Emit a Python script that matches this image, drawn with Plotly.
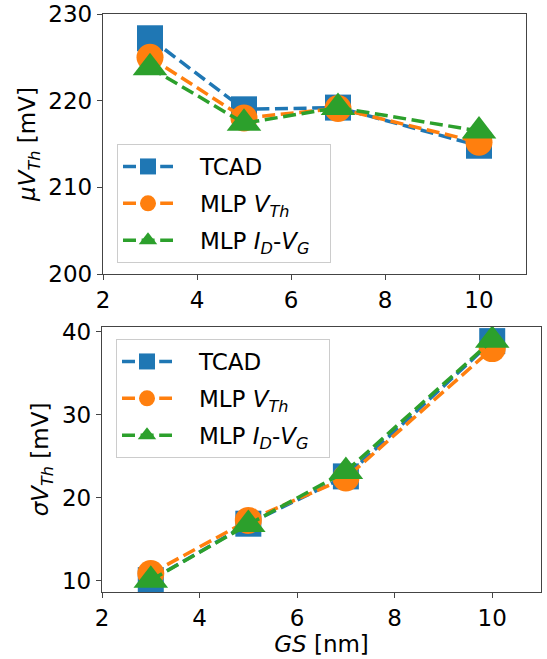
import plotly.graph_objects as go

gs = [3, 5, 7, 10]
mu_tcad = [227.2, 219.0, 219.2, 214.8]
mu_mlp_vth = [225.0, 218.0, 219.1, 215.2]
mu_mlp_idvg = [223.8, 217.4, 219.2, 216.5]
sig_tcad = [10.1, 16.9, 22.6, 38.9]
sig_mlp_vth = [10.9, 17.3, 22.4, 38.0]
sig_mlp_idvg = [10.1, 16.8, 23.2, 39.0]

SP = "\u00a0\u00a0\u00a0"
names = [SP + "TCAD", SP + "MLP <i>V</i><sub><i>Th</i></sub>",
         SP + "MLP <i>I</i><sub><i>D</i></sub>-<i>V</i><sub><i>G</i></sub>\u00a0\u00a0"]
colors = ["#1f77b4", "#ff7f0e", "#2ca02c"]
symbols = ["square", "circle", "triangle-up"]
sizes = [26, 27, 30]

FONT = "DejaVu Sans"
FS = 23

fig = go.Figure()
for i, ys in enumerate([mu_tcad, mu_mlp_vth, mu_mlp_idvg]):
    fig.add_trace(go.Scatter(x=gs, y=ys, mode="lines+markers", name=names[i],
                             line=dict(color=colors[i], width=3.5, dash="13px,5.6px"),
                             marker=dict(symbol=symbols[i], size=sizes[i], color=colors[i]),
                             xaxis="x", yaxis="y", legend="legend", legendgroup="a%d" % i))
for i, ys in enumerate([sig_tcad, sig_mlp_vth, sig_mlp_idvg]):
    fig.add_trace(go.Scatter(x=gs, y=ys, mode="lines+markers", name=names[i],
                             line=dict(color=colors[i], width=3.5, dash="13px,5.6px"),
                             marker=dict(symbol=symbols[i], size=sizes[i], color=colors[i]),
                             xaxis="x2", yaxis="y2", legend="legend2", legendgroup="b%d" % i))

W, H = 547, 659
axstyle = dict(showline=True, mirror=True, linecolor="#444", linewidth=1.3,
               ticks="outside", ticklen=5, tickwidth=1.2, tickcolor="#444",
               showgrid=False, zeroline=False, automargin=False,
               tickfont=dict(family=FONT, size=FS, color="black"))

legstyle = dict(font=dict(family=FONT, size=FS, color="black"),
                bgcolor="rgba(255,255,255,0.8)", bordercolor="#cccccc", borderwidth=1,
                xanchor="left", yanchor="top", itemsizing="trace", itemwidth=50,
                tracegroupgap=4)

fig.update_layout(
    width=W, height=H, margin=dict(l=0, r=0, t=0, b=0, autoexpand=False),
    plot_bgcolor="white", paper_bgcolor="white",
    showlegend=True,
    xaxis=dict(domain=[103 / W, 526 / W], range=[2, 11], tickvals=[2, 4, 6, 8, 10],
               anchor="y", **axstyle),
    yaxis=dict(domain=[1 - 274 / H, 1 - 14 / H], range=[200, 230], tickvals=[200, 210, 220, 230],
               anchor="x",
               title=dict(text="<i>μV</i><sub><i>Th</i></sub> [mV]", standoff=6,
                          font=dict(family=FONT, size=FS, color="black")),
               **axstyle),
    xaxis2=dict(domain=[102 / W, 541 / W], range=[2, 11], tickvals=[2, 4, 6, 8, 10],
                anchor="y2",
                title=dict(text="<i>GS</i> [nm]", standoff=4,
                           font=dict(family=FONT, size=FS, color="black")),
                **axstyle),
    yaxis2=dict(domain=[1 - 592 / H, 1 - 327 / H], range=[8.67, 40.6], tickvals=[10, 20, 30, 40],
                anchor="x2",
                title=dict(text="<i>σV</i><sub><i>Th</i></sub> [mV]", standoff=6,
                           font=dict(family=FONT, size=FS, color="black")),
                **axstyle),
    legend=dict(x=117 / W, y=1 - 144 / H, **legstyle),
    legend2=dict(x=116 / W, y=1 - 339 / H, **legstyle),
)

fig.write_html("out.html", config={"displayModeBar": False},
               post_script="document.body.style.margin='0';document.body.style.overflow='hidden';")
